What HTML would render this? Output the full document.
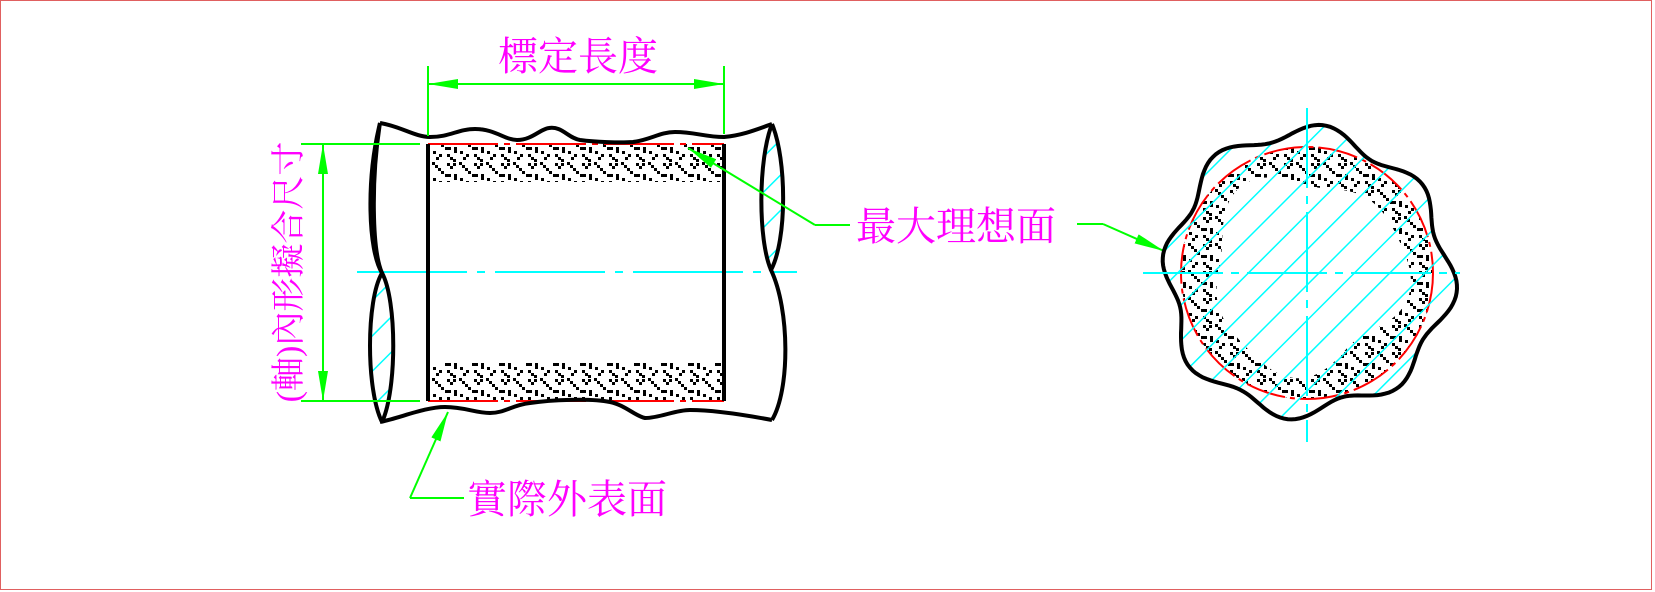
<!DOCTYPE html>
<html><head><meta charset="utf-8"><style>
html,body{margin:0;padding:0;background:#fff;width:1655px;height:592px;overflow:hidden}
svg{display:block}
text{font-family:"Liberation Serif","Noto Serif CJK SC","Noto Sans CJK TC",serif;fill:#ff00ff}
</style></head><body>
<svg id="s" width="1655" height="592" viewBox="0 0 1655 592" xmlns="http://www.w3.org/2000/svg">
<defs>
<pattern id="dots" width="27" height="27" patternUnits="userSpaceOnUse">
<g fill="#000">
<rect x="0" y="0" width="3" height="3"/><rect x="3" y="3" width="3" height="3"/><rect x="6" y="6" width="3" height="3"/><rect x="9" y="9" width="3" height="3"/>
<rect x="15" y="1" width="3" height="3"/><rect x="21" y="1" width="3" height="3"/><rect x="18" y="4" width="3" height="3"/>
<rect x="13" y="12" width="6" height="3"/><rect x="22" y="12" width="3" height="6"/>
<rect x="1" y="16" width="3" height="3"/><rect x="7" y="19" width="3" height="3"/><rect x="4" y="22" width="3" height="3"/>
<rect x="15" y="19" width="3" height="3"/><rect x="18" y="22" width="3" height="3"/><rect x="21" y="24" width="3" height="3"/>
</g>
</pattern>
<pattern id="hatch" width="25" height="25" patternUnits="userSpaceOnUse" patternTransform="rotate(45)">
<line x1="0" y1="0" x2="0" y2="25" stroke="#00ffff" stroke-width="3"/>
</pattern>
<marker id="ar" viewBox="0 0 30 10" refX="30" refY="5" markerWidth="30" markerHeight="10" markerUnits="userSpaceOnUse" orient="auto">
<path d="M0,0 L30,5 L0,10 Z" fill="#00ff00"/></marker>
<clipPath id="outerclip"><path id="oc"/></clipPath>
</defs>
<rect x="0.5" y="0.5" width="1651" height="589" fill="none" stroke="#e06060" stroke-width="1"/>

<!-- left view -->
<rect x="428" y="144" width="296" height="38" fill="url(#dots)"/>
<rect x="428" y="363" width="296" height="37" fill="url(#dots)"/>
<line x1="428" y1="144" x2="724" y2="144" stroke="#ff0000" stroke-width="2" stroke-dasharray="70,6,6,6"/>
<line x1="428" y1="401" x2="724" y2="401" stroke="#ff0000" stroke-width="2" stroke-dasharray="70,6,6,6"/>
<line x1="357" y1="272" x2="797" y2="272" stroke="#00ffff" stroke-width="2" stroke-dasharray="110,10,8,10"/>
<path d="M382,273 C397,300 397,390 382,422 C366,390 366,300 382,273Z" fill="url(#hatch)"/>
<path d="M772,124 C787,160 787,240 771,270 C758,240 758,160 772,124Z" fill="url(#hatch)"/>
<g fill="none" stroke="#000" stroke-width="4">
<path d="M380,123 C366,180 368,250 382,273 C397,300 397,390 382,422"/>
<path d="M380,123 C371,180 372,250 382,273 C366,300 366,390 382,422"/>
<path d="M772,124 C787,160 787,240 771,270 C790,310 790,390 772,420"/>
<path d="M772,124 C758,160 758,240 771,270"/>
<path d="M380,123 C400,126 415,137 430,137 C450,137 458,129 475,129 C495,129 505,140 517,140 C532,140 540,129 549,128 C562,126 568,138 580,140 C595,142 620,143 633,142 C650,140 660,132 675,132 C695,132 705,137 724,137 C745,135 760,128 772,124"/>
<path d="M380,422 C400,418 425,407 445,407 C465,407 475,413 490,413 C505,413 512,405 530,403 C550,400 590,398 610,402 C625,405 635,416 645,418 C660,418 675,410 690,410 C710,410 740,414 772,420"/>
<line x1="428" y1="144" x2="428" y2="401"/>
<line x1="724" y1="144" x2="724" y2="401"/>
</g>
<!-- dimensions -->
<g stroke="#00ff00" stroke-width="2" fill="none">
<line x1="428" y1="66" x2="428" y2="136"/>
<line x1="724" y1="66" x2="724" y2="134"/>
<line x1="428" y1="84" x2="724" y2="84" marker-end="url(#ar)"/>
<line x1="724" y1="84" x2="428" y2="84" marker-end="url(#ar)"/>
<line x1="301" y1="144" x2="420" y2="144"/>
<line x1="301" y1="401" x2="420" y2="401"/>
<line x1="323" y1="144" x2="323" y2="401" marker-end="url(#ar)"/>
<line x1="323" y1="401" x2="323" y2="144" marker-end="url(#ar)"/>
<polyline points="464,498 410,498"/>
<line x1="410" y1="498" x2="448" y2="412" marker-end="url(#ar)"/>
<polyline points="850,225 815,225"/>
<line x1="815" y1="225" x2="688" y2="148" marker-end="url(#ar)"/>
<polyline points="1077,224 1103,224"/>
<line x1="1103" y1="224" x2="1164" y2="251" marker-end="url(#ar)"/>
</g>
<text x="578" y="70" font-size="40" text-anchor="middle">標定長度</text>
<text x="467" y="513" font-size="40">實際外表面</text>
<text x="856" y="240" font-size="40">最大理想面</text>
<text transform="translate(300,272) rotate(-90)" font-size="34" text-anchor="middle">(軸)內形擬合尺寸</text>

<!-- right view -->
<path id="ring" fill="url(#dots)" fill-rule="evenodd"/>
<circle cx="1307" cy="273" r="126" fill="none" stroke="#ff0000" stroke-width="2" stroke-dasharray="40,5,5,5"/>
<rect x="1140" y="100" width="340" height="350" fill="url(#hatch)" clip-path="url(#outerclip)"/>
<path id="outer" fill="none" stroke="#000" stroke-width="4"/>
<line x1="1307" y1="108" x2="1307" y2="442" stroke="#00ffff" stroke-width="2" stroke-dasharray="80,8,8,8"/>
<line x1="1143" y1="273" x2="1460" y2="273" stroke="#00ffff" stroke-width="2" stroke-dasharray="80,8,8,8"/>
</svg>
<script>
(function(){
var cx=1307,cy=273;
function poly(f,n){var d='';for(var i=0;i<=n;i++){var t=i/n*2*Math.PI;var r=f(t);var x=cx+r*Math.cos(t),y=cy+r*Math.sin(t);d+=(i?'L':'M')+x.toFixed(1)+','+y.toFixed(1);}return d+'Z';}
var out=poly(function(t){return 140+8*Math.sin(8*t+0.6)+3*Math.sin(3*t+1);},240);
document.getElementById('outer').setAttribute('d',out);
document.getElementById('oc').setAttribute('d',out);
var c=poly(function(t){return 126;},180);
var h=poly(function(t){return 96+8*Math.sin(3*t+2)+5*Math.sin(5*t);},180);
document.getElementById('ring').setAttribute('d',c+h);
})();
</script>
</body></html>
